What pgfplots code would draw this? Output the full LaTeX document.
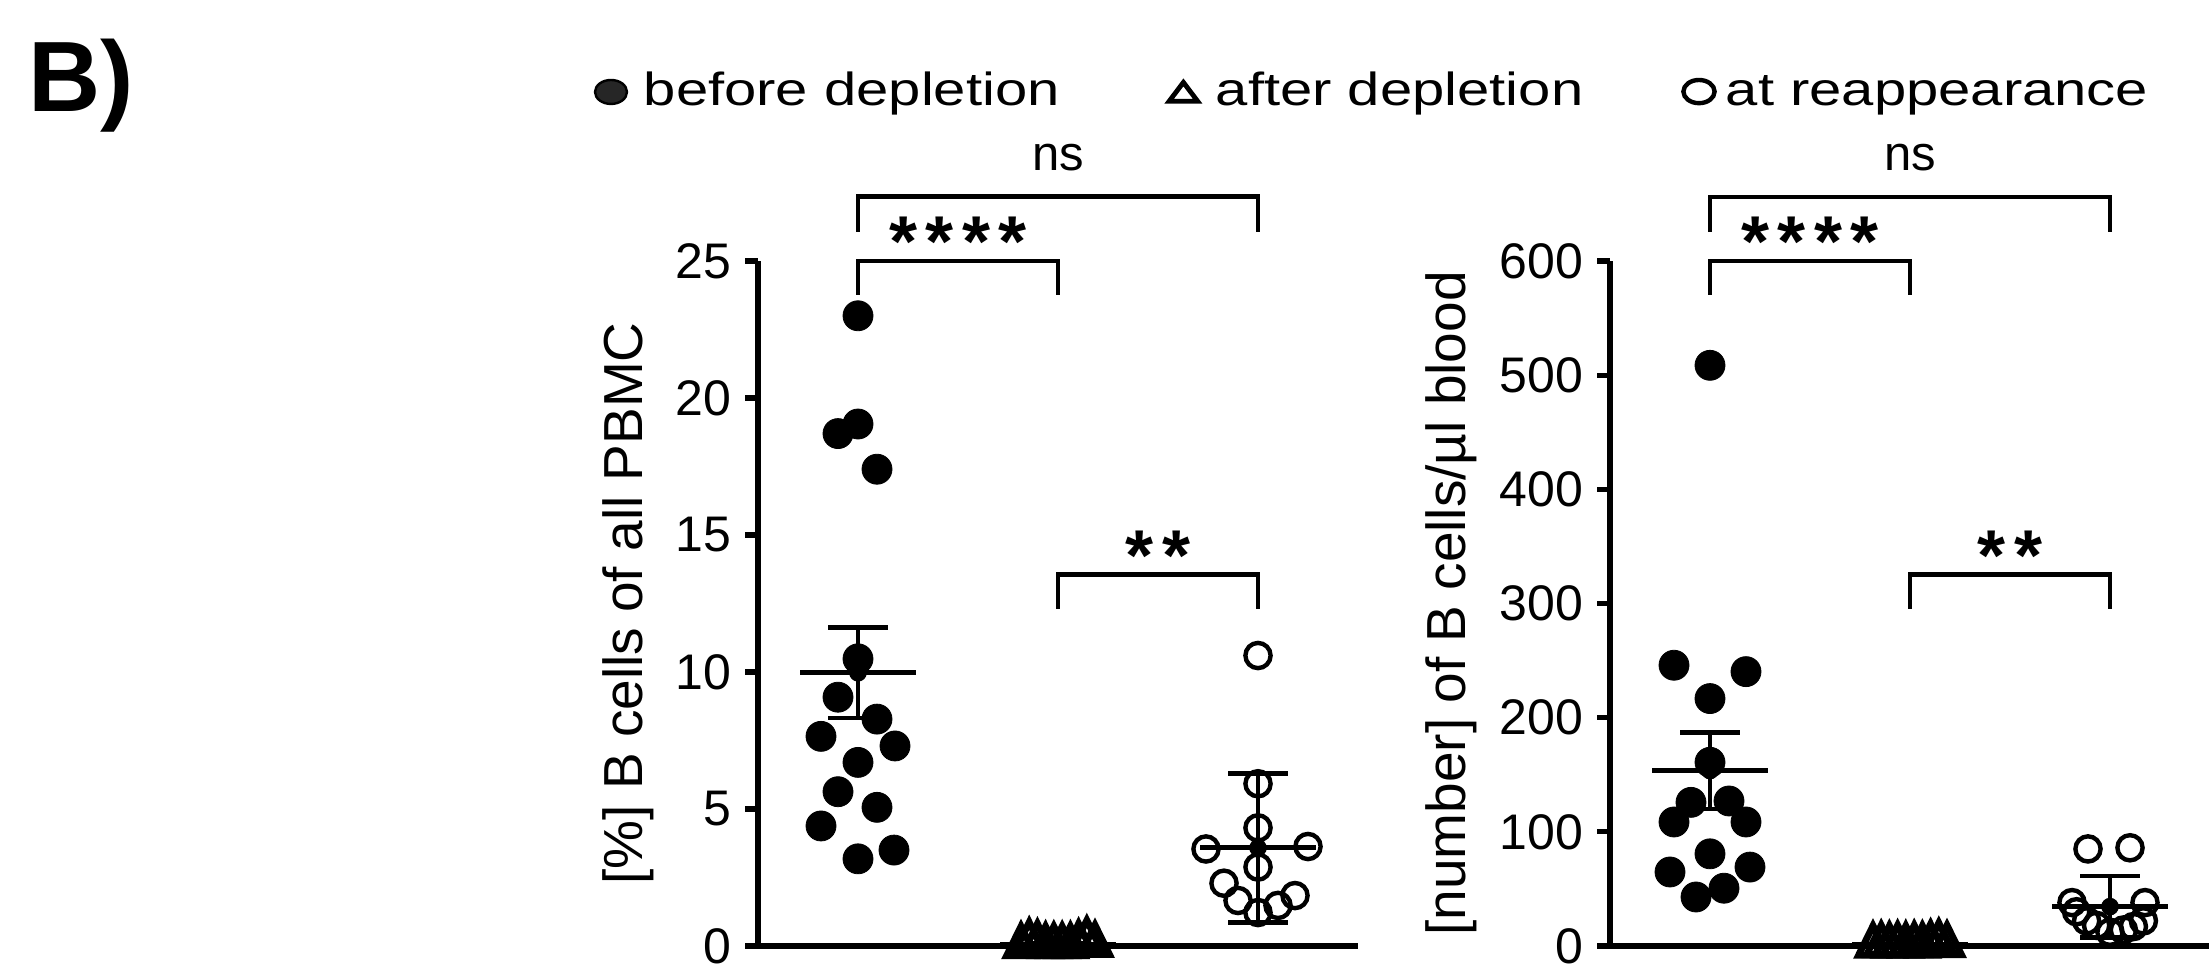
\documentclass[border=0pt]{standalone}
\usepackage{fontspec}
\setmainfont{Liberation Sans}
\newfontfamily\legendfont[FakeStretch=1.25]{Liberation Sans}
\usepackage{pgfplots}
\pgfplotsset{compat=1.18}

\newcommand{\ticksize}{\fontsize{12.5}{15}\selectfont}
\newcommand{\labsize}{\fontsize{13.75}{16}\selectfont}
\newcommand{\legsize}{\legendfont\fontsize{11.6}{14}\selectfont}
\newcommand{\astsize}{\fontsize{18}{20}\selectfont\bfseries}
\newcommand{\fourstar}{*\kern2.1pt*\kern2.1pt*\kern2.1pt*}
\newcommand{\twostar}{*\kern2.1pt*}

\pgfplotsset{
  panel/.style={
    scale only axis, width=150pt, height=171.25pt,
    xmin=-0.5, xmax=2.5, ymin=0,
    axis x line=bottom, axis y line=left,
    axis line style={-, line width=1.3pt},
    xtick=\empty,
    tick align=outside, major tick length=3.25pt,
    tick style={line width=1.3pt, black},
    tick label style={font=\ticksize},
    ylabel style={anchor=center, font=\labsize},
    clip=false,
    /pgf/number format/assume math mode=true,
  },
  before/.style={only marks, mark=*, mark size=3.75pt, mark options={fill=black, draw=black, line width=0.2pt}},
  after/.style={only marks, mark=triangle, mark size=4.9pt, mark options={draw=black, line width=1.7pt, xscale=0.85}},
  reapp/.style={only marks, mark=o, mark size=3.15pt, mark options={draw=black, line width=1.1pt}},
  meanline/.style={black, line width=1.3pt},
  sem/.style={black, only marks, mark=none,
    error bars/.cd, y dir=both, y explicit,
    error bar style={line width=1.2pt, black},
    error mark options={rotate=90, mark size=7.4pt, line width=1.2pt, black}},
}
\tikzset{
  starlab/.style={anchor=base, font=\astsize, yshift=-1.4pt},
  nslab/.style={anchor=base, font=\fontsize{12.25}{14}\selectfont, yshift=6.6pt},
}

\begin{document}
\begin{tikzpicture}
\useasboundingbox (0,0) rectangle (552.25pt,242.5pt);

\node[anchor=base west, inner sep=0, font=\fontsize{25}{30}\selectfont\bfseries] at (6.8pt,214.5pt) {B)};

% legend
\filldraw[fill=black!85, draw=black, line width=0.6pt] (152.75pt,219.5pt) ellipse [x radius=4pt, y radius=3pt];
\node[anchor=base west, inner sep=0, font=\legsize] at (160.75pt,216.1pt) {before depletion};
\draw[line width=1.2pt, line join=miter] (292.3pt,217.2pt) -- (299.4pt,217.2pt) -- (295.85pt,221.9pt) -- cycle;
\node[anchor=base west, inner sep=0, font=\legsize] at (303.75pt,216.1pt) {after depletion};
\draw[line width=1.1pt] (424.75pt,219.6pt) ellipse [x radius=3.9pt, y radius=2.9pt];
\node[anchor=base west, inner sep=0, font=\legsize] at (431.25pt,216.1pt) {at reappearance};

% left panel: percent
\begin{axis}[panel, at={(189.5pt,6pt)}, anchor=south west,
  ymax=25, ytick={0,5,...,25},
  ylabel={[\%] B cells of all PBMC},
  ylabel style={at={(axis description cs:-0.217,0.5)}}]
  \addplot[before] coordinates {
    (0,23.0) (0,19.05) (-0.1,18.7) (0.095,17.4) (0,10.48) (-0.1,9.08)
    (0.095,8.28) (-0.185,7.65) (0.185,7.3) (0,6.7) (-0.1,5.63)
    (0.095,5.06) (-0.185,4.38) (0.18,3.5) (0,3.18)};
  \addplot[after] coordinates {
    (0.815,0) (0.856,0.15) (0.897,0.1) (0.938,0) (0.979,0)
    (1.021,0) (1.062,0) (1.103,0.1) (1.144,0.22) (1.185,0.05)};
  \addplot[reapp] coordinates {
    (2,10.6) (2,5.92) (2,4.31) (1.74,3.54) (2.25,3.63) (2,2.88)
    (1.83,2.29) (2.185,1.84) (1.9,1.66) (2.1,1.48) (2,1.22)};
  \addplot[meanline] coordinates {(-0.29,9.97) (0.29,9.97)};
  \addplot[meanline] coordinates {(0.71,0.06) (1.29,0.06)};
  \addplot[meanline] coordinates {(1.71,3.58) (2.29,3.58)};
  \addplot[sem] coordinates {(0,9.97) +- (0,1.65) (1,0.06) +- (0,0.03) (2,3.58) +- (0,2.72)};
  % significance brackets
  \draw[line width=1.2pt] (axis cs:0,26.06) |- (axis cs:2,27.34) -- (axis cs:2,26.06);
  \node[nslab] at (axis cs:1,27.34) {ns};
  \draw[line width=1.2pt] (axis cs:0,23.76) |- (axis cs:1,25) -- (axis cs:1,23.76);
  \node[starlab] at (axis cs:0.5,25) {\fourstar};
  \draw[line width=1.2pt] (axis cs:1,12.3) |- (axis cs:2,13.55) -- (axis cs:2,12.3);
  \node[starlab] at (axis cs:1.5,13.55) {\twostar};
\end{axis}

% right panel: absolute counts
\begin{axis}[panel, at={(402.5pt,6pt)}, anchor=south west,
  ymax=600, ytick={0,100,...,600},
  ylabel={[number] of B cells/µl blood},
  ylabel style={at={(axis description cs:-0.265,0.5)}}]
  \addplot[before] coordinates {
    (0,508.6) (-0.18,245.9) (0.18,240.3) (0,216.7) (0,160.9)
    (-0.095,125.8) (0.095,127) (-0.18,108.6) (0.18,108.6) (0,80.7)
    (-0.2,64.8) (0.2,69.1) (0.07,50.6) (-0.07,42.9)};
  \addplot[after] coordinates {
    (0.815,0.5) (0.856,1) (0.897,0.5) (0.938,1) (0.979,0.5)
    (1.021,1) (1.062,0.5) (1.103,2) (1.144,3) (1.185,1)};
  \addplot[reapp] coordinates {
    (1.89,85) (2.1,86) (1.81,38) (2.175,38) (1.833,30) (1.883,22)
    (1.933,18) (2,12) (2.067,14) (2.117,17) (2.167,22)};
  \addplot[meanline] coordinates {(-0.29,153.6) (0.29,153.6)};
  \addplot[meanline] coordinates {(0.71,1) (1.29,1)};
  \addplot[meanline] coordinates {(1.71,34.5) (2.29,34.5)};
  \addplot[sem] coordinates {(0,153.6) +- (0,33.7) (1,1) +- (0,0.5) (2,34.5) +- (0,26.8)};
  \draw[line width=1.2pt] (axis cs:0,625.4) |- (axis cs:2,656) -- (axis cs:2,625.4);
  \node[nslab] at (axis cs:1,656) {ns};
  \draw[line width=1.2pt] (axis cs:0,570.2) |- (axis cs:1,600) -- (axis cs:1,570.2);
  \node[starlab] at (axis cs:0.5,600) {\fourstar};
  \draw[line width=1.2pt] (axis cs:1,295.2) |- (axis cs:2,325.3) -- (axis cs:2,295.2);
  \node[starlab] at (axis cs:1.5,325.3) {\twostar};
\end{axis}
\end{tikzpicture}
\end{document}
